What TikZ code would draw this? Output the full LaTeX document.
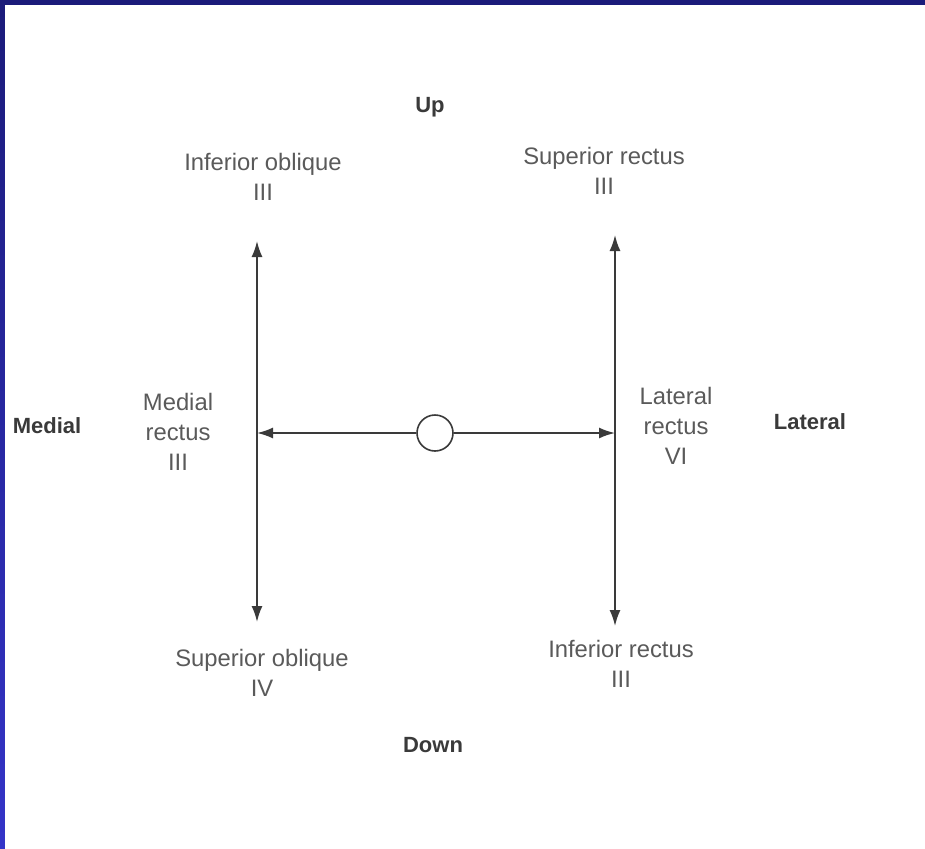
\documentclass[tikz,border=0pt]{standalone}
\usepackage{fontspec}
\setmainfont{Liberation Sans}
\usetikzlibrary{arrows.meta}
\definecolor{inkgray}{HTML}{3A3A3A}
\definecolor{txtgray}{HTML}{5A5A5A}
\definecolor{topblue}{HTML}{1B1B7A}
\definecolor{botblue}{HTML}{3434C8}
\tikzset{
  lbl/.style={text=txtgray, align=center, inner sep=0pt,
    font=\fontsize{23.8}{30}\selectfont},
  dirlbl/.style={text=inkgray, inner sep=0pt,
    font=\fontsize{22}{26}\selectfont\bfseries},
  tip/.tip={Latex[length=16pt,width=11pt]},
  axis/.style={draw=inkgray, line width=1.8pt, arrows={tip-tip}},
  half/.style={draw=inkgray, line width=1.8pt, -tip},
  eye/.style={circle, draw=inkgray, line width=1.6pt, fill=white,
    minimum size=36pt, inner sep=0pt}
}
\begin{document}
\begin{tikzpicture}[x=1pt,y=-1pt]
\useasboundingbox (0,0) rectangle (925,848);
\clip (0,0) rectangle (925,848);
\shade[top color=topblue, bottom color=botblue] (0,0) rectangle (925,848);
\fill[white] (5,5) rectangle (930,855);

% direction labels
\node[dirlbl] (up) at (430,107) {Up};
\node[dirlbl] (down) at (433,745) {Down};
\node[dirlbl] (medial) at (47,426) {Medial};
\node[dirlbl] (lateral) at (810,422) {Lateral};

% muscle labels
\node[lbl] (io) at (263,177) {Inferior oblique\\III};
\node[lbl] (sr) at (604,171) {Superior rectus\\III};
\node[lbl] (mr) at (178,432) {Medial\\rectus\\III};
\node[lbl] (lr) at (676,426) {Lateral\\rectus\\VI};
\node[lbl] (so) at (262,673) {Superior oblique\\IV};
\node[lbl] (ir) at (621,664) {Inferior rectus\\III};

% axes
\coordinate (LT) at (257,241);
\coordinate (LB) at (257,622);
\coordinate (RT) at (615,235);
\coordinate (RB) at (615,626);
\coordinate (LM) at (257,433);
\coordinate (RM) at (615,433);
\draw[axis] (LT) -- (LB);
\draw[axis] (RT) -- (RB);

\node[eye] (c) at (435,433) {};
\draw[half] (c) -- (LM);
\draw[half] (c) -- (RM);
\end{tikzpicture}
\end{document}
